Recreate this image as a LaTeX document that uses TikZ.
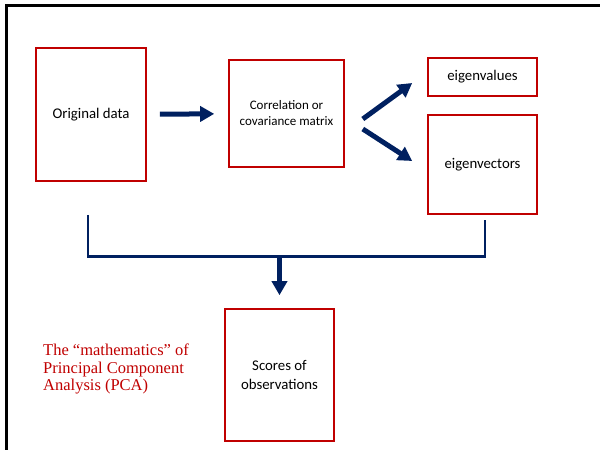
\documentclass[tikz,border=0pt]{standalone}
\usepackage{fontspec}
\setmainfont{Carlito}
\newfontfamily\notefont{Liberation Serif}
\usetikzlibrary{arrows.meta,calc}

\definecolor{boxred}{RGB}{192,0,0}
\definecolor{navy}{RGB}{0,32,96}

\begin{document}
\begin{tikzpicture}[x=1pt, y=-1pt,
	box/.style={draw=boxred, line width=1.6pt, align=center, inner sep=0pt,
		font=\fontsize{14.8}{19}\selectfont},
	flow/.style={navy, line width=5pt, -{Triangle[width=15pt, length=14pt]}},
	bracket/.style={navy, line width=2.8pt}]
	\useasboundingbox (0,0) rectangle (600,450);
	\clip (0,0) rectangle (600,450);

	\draw [line width=3pt] (6,460) -- (6,5) -- (610,5);

	\node [box, minimum width=110pt, minimum height=133pt] (orig) at (91,114.5) {Original data};
	\node [box, minimum width=115pt, minimum height=107pt, font=\fontsize{13}{16}\selectfont] (corr) at (286.5,113.5) {Correlation or\\covariance matrix};
	\node [box, minimum width=109pt, minimum height=38pt] (evals) at (482.5,77) {eigenvalues};
	\node [box, minimum width=109pt, minimum height=99pt] (evecs) at (482.5,164.5) {eigenvectors};
	\node [box, minimum width=109pt, minimum height=132pt] (scores) at (279.5,375) {Scores of\\observations};

	\draw [flow, shorten <=13pt, shorten >=14pt] (orig) -- (corr);
	\draw [flow] ($(corr.east)+(18,5.5)$) -- ($(evals.west)+(-15,6)$);
	\draw [flow] ($(corr.east)+(18,15.5)$) -- ($(evecs.west)+(-15,-3.5)$);

	\coordinate (L) at ($(orig.south)+(-3,33)$);
	\coordinate (R) at ($(evecs.south)+(2.5,5)$);
	\coordinate (J) at ($(scores.north)+(0,-52)$);
	\draw [bracket, line join=miter] (L) -- (L |- J) -- (R |- J) -- (R);
	\draw [flow, shorten >=13pt] (J) -- (scores.north);

	\node [anchor=north west, align=left, text=boxred, inner sep=0pt,
		font=\notefont\fontsize{16.5}{17.5}\selectfont] (note) at (43,344)
		{The “mathematics” of\\Principal Component\\Analysis (PCA)};
\end{tikzpicture}
\end{document}
